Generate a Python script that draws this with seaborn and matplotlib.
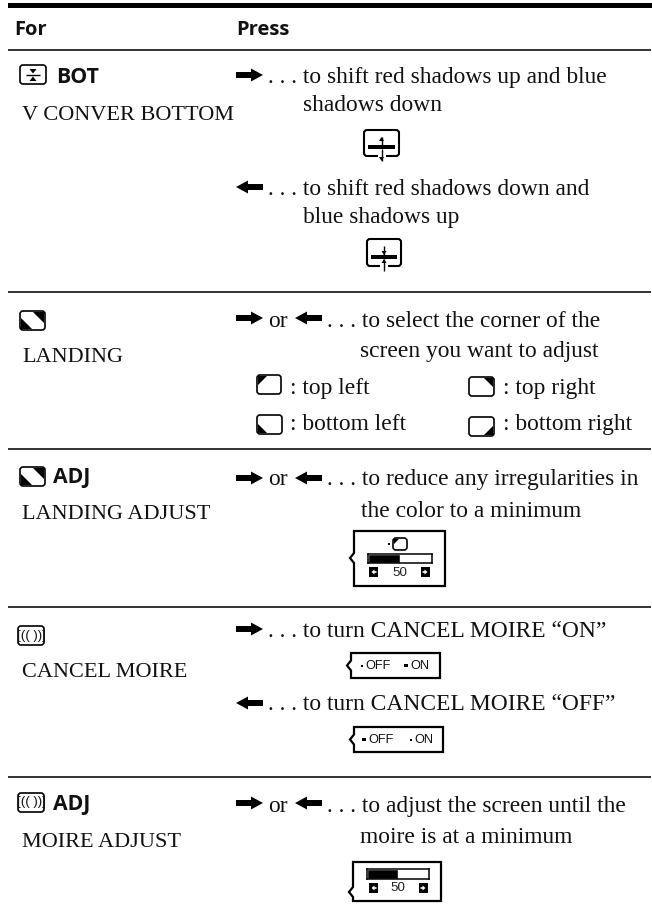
import matplotlib
matplotlib.use("Agg")
import logging
import matplotlib.pyplot as plt
from matplotlib.patches import FancyBboxPatch, Polygon, Rectangle
import seaborn as sns

logging.getLogger("matplotlib.font_manager").setLevel(logging.ERROR)

# text of the table
headers = ["For", "Press"]
bold_tags = ["BOT", "ADJ", "ADJ"]
item_names = ["V CONVER BOTTOM", "LANDING", "LANDING ADJUST", "CANCEL MOIRE", "MOIRE ADJUST"]
press_lines = [
    ". . . to shift red shadows up and blue",
    "shadows down",
    ". . . to shift red shadows down and",
    "blue shadows up",
    "or",
    ". . . to select the corner of the",
    "screen you want to adjust",
    "or",
    ". . . to reduce any irregularities in",
    "the color to a minimum",
    ". . . to turn CANCEL MOIRE \u201cON\u201d",
    ". . . to turn CANCEL MOIRE \u201cOFF\u201d",
    "or",
    ". . . to adjust the screen until the",
    "moire is at a minimum",
]
corner_labels = [": top left", ": top right", ": bottom left", ": bottom right"]
slider_values = [50, 50]
switch_labels = ["OFF", "ON"]

# layout in pixels
name_pos = [(22, 120), (22, 362), (22, 519), (22, 677), (22, 847)]
tag_pos = [(56, 83), (53, 483), (53, 810)]
press_pos = [(268, 83), (303, 111), (268, 195), (303, 223), (268, 327), (327, 327), (360, 357),
             (268, 485), (327, 485), (361, 517), (268, 637), (268, 710), (268, 812), (327, 812), (360, 843)]
corner_pos = [(290, 394), (503, 394), (290, 430), (503, 430)]
rule_y = [50, 292, 449, 607, 777]
right_arrows = [(236, 75), (236, 318), (236, 478), (236, 629), (236, 803)]
left_arrows = [(236, 187), (295, 318), (295, 478), (236, 703), (295, 803)]

SERIF = ["Liberation Serif", "DejaVu Serif"]
SANS = ["Liberation Sans", "DejaVu Sans"]
HEAD = ["Open Sans", "DejaVu Sans"]
INK = "#111111"

sns.set_theme(style="white")
fig = plt.figure(figsize=(6.52, 9.14), dpi=100)
ax = fig.add_axes([0, 0, 1, 1])
ax.set_xlim(0, 652)
ax.set_ylim(914, 0)
ax.axis("off")


def serif(x, y, s, size=16.9):
    ax.text(x, y, s, family=SERIF, fontsize=size, color=INK, va="baseline", ha="left")


def round_box(x0, y0, x1, y1, lw=1.2):
    ax.add_patch(FancyBboxPatch((x0 + 2, y0 + 2), x1 - x0 - 4, y1 - y0 - 4,
                                boxstyle="round,pad=2,rounding_size=3",
                                fc="white", ec="black", lw=lw, zorder=3))


def block_arrow(x, y, direction):
    # wide shaft, short head, 27 px long
    pts = [(0, -3), (15, -3), (15, -6.5), (27, 0), (15, 6.5), (15, 3), (0, 3)]
    if direction < 0:
        pts = [(27 - a, b) for a, b in pts]
    ax.add_patch(Polygon([(x + a, y + b) for a, b in pts], fc="black", ec="none"))


def corner_icon(x0, y0, x1, y1, corners, size=10):
    round_box(x0, y0, x1, y1)
    for c in corners:
        if c == "tl":
            pts = [(x0 + 1, y0 + 1), (x0 + size, y0 + 1), (x0 + 1, y0 + size)]
        elif c == "tr":
            pts = [(x1 - 1, y0 + 1), (x1 - size, y0 + 1), (x1 - 1, y0 + size)]
        elif c == "bl":
            pts = [(x0 + 1, y1 - 1), (x0 + size, y1 - 1), (x0 + 1, y1 - size)]
        else:
            pts = [(x1 - 1, y1 - 1), (x1 - size, y1 - 1), (x1 - 1, y1 - size)]
        ax.add_patch(Polygon(pts, fc="black", ec="none", zorder=4))


def moire_icon(x0, y0, x1, y1):
    round_box(x0, y0, x1, y1)
    ax.text((x0 + x1) / 2, (y0 + y1) / 2, "[(( ))]", family=SANS, fontsize=9.5, ha="center",
            va="center", color=INK, zorder=4)


def thin_arrow(x, y_from, y_to):
    ax.plot([x, x], [y_from, y_to], color="black", lw=1, zorder=5, solid_capstyle="butt")
    d = 1 if y_to > y_from else -1
    ax.add_patch(Polygon([(x - 2.5, y_to - 4 * d), (x + 2.5, y_to - 4 * d), (x, y_to)],
                         fc="black", ec="none", zorder=5))


def shadow_icon(x0, y0, x1, y1, bar_y, inward):
    cx = (x0 + x1) / 2
    round_box(x0, y0, x1, y1, lw=1.5)
    ax.add_patch(Rectangle((cx - 4, y1 - 2), 8, 4, fc="white", ec="none", zorder=4))
    ax.add_patch(Rectangle((x0 + 4, bar_y - 2), x1 - x0 - 8, 4, fc="black", ec="none", zorder=5))
    if inward:
        thin_arrow(cx, y0 + 7, bar_y - 2)
        thin_arrow(cx, y1 + 5, bar_y + 2)
    else:
        thin_arrow(cx, bar_y - 2, y0 + 7)
        thin_arrow(cx, bar_y + 2, y1 + 5)


def panel(x0, y0, x1, y1, notch_y):
    ax.add_patch(Polygon([(x0, y0), (x1, y0), (x1, y1), (x0, y1), (x0, notch_y + 5),
                          (x0 - 4, notch_y), (x0, notch_y - 5)],
                         closed=True, fc="white", ec="black", lw=1.6, zorder=2))


def step_button(x, y, direction):
    ax.add_patch(Rectangle((x, y), 9, 10, fc="black", ec="none", zorder=4))
    pts = [(2, 0), (-1, -2.5), (-1, -0.8), (-3, -0.8), (-3, 0.8), (-1, 0.8), (-1, 2.5)]
    ax.add_patch(Polygon([(x + 4.5 + a * direction, y + 5 + b) for a, b in pts],
                         fc="white", ec="none", zorder=5))


def slider(x0, y0, x1, y1, value):
    # level bar is a real horizontal bar on a 0-100 scale
    inset = fig.add_axes([x0 / 652, 1 - y1 / 914, (x1 - x0) / 652, (y1 - y0) / 914], zorder=6)
    sns.barplot(x=[value], y=[""], color="black", width=1, saturation=1, ax=inset)
    inset.set_xlim(0, 100)
    inset.set_ylim(0.5, -0.5)
    inset.set(xticks=[], yticks=[], xlabel="", ylabel="")
    for side in inset.spines.values():
        side.set_visible(True)
        side.set_color("black")
        side.set_linewidth(1.1)


def switch(x0, y0, x1, y1, off_x, on_x, selected):
    panel(x0, y0, x1, y1, (y0 + y1) / 2)
    ym = (y0 + y1) / 2
    for i, (lab, lx) in enumerate(zip(switch_labels, (off_x, on_x))):
        ax.text(lx, ym + 0.5, lab, family=SANS, fontsize=9.2, color=INK, ha="left", va="center", zorder=4)
        s = 3.4 if i == selected else 2
        ax.add_patch(Rectangle((lx - 2.5 - s, ym - s / 2), s, s, fc="black", ec="none", zorder=4))


# rules
ax.add_patch(Rectangle((8, 3), 644, 5, fc="black", ec="none"))
ax.hlines(rule_y, 8, 651, color="#222222", lw=1.3)

# header
ax.text(14, 35, headers[0], family=HEAD, weight="bold", fontsize=14.5, color=INK)
ax.text(236, 35, headers[1], family=HEAD, weight="bold", fontsize=14.5, color=INK)

for s, (x, y) in zip(bold_tags, tag_pos):
    ax.text(x, y, s, family=HEAD, weight="bold", fontsize=15.3, color=INK)
for s, (x, y) in zip(item_names, name_pos):
    serif(x, y, s, size=16)
for s, (x, y) in zip(press_lines, press_pos):
    serif(x, y, s)
for s, (x, y) in zip(corner_labels, corner_pos):
    serif(x, y, s)

for x, y in right_arrows:
    block_arrow(x, y, 1)
for x, y in left_arrows:
    block_arrow(x, y, -1)

# icons in the left column
round_box(20, 65, 46, 84)
ax.hlines(75, 26, 40, color="black", lw=1, zorder=4)
ax.add_patch(Polygon([(29.5, 69), (36.5, 69), (33, 73.5)], fc="black", ec="none", zorder=4))
ax.add_patch(Polygon([(29.5, 81), (36.5, 81), (33, 76.5)], fc="black", ec="none", zorder=4))
corner_icon(20, 311, 45, 330, ["bl", "tr"], size=12)
corner_icon(20, 467, 45, 486, ["bl", "tr"], size=12)
moire_icon(18, 626, 44, 645)
moire_icon(18, 793, 44, 812)

# convergence icons
shadow_icon(364, 130, 399, 156, 147, False)
shadow_icon(367, 239, 401, 266, 257, True)

# corner choice icons
corner_icon(257, 375, 281, 394, ["tl"])
corner_icon(469, 377, 494, 396, ["tr"])
corner_icon(257, 415, 282, 434, ["bl"])
corner_icon(469, 417, 494, 436, ["br"])

# landing adjust panel
panel(354, 531, 445, 586, 558)
corner_icon(393, 538, 407, 550, ["tl"], size=6)
ax.add_patch(Rectangle((388, 542.5), 2, 2, fc="black", ec="none", zorder=4))
slider(368, 554, 432, 563, slider_values[0])
step_button(369, 567, -1)
step_button(421, 567, 1)
ax.text(400, 573, str(slider_values[0]), family=SANS, fontsize=9.6, color="#222222",
        ha="center", va="center", zorder=4)

# cancel moire panels
switch(351, 653, 440, 678, 365, 410, 1)
switch(354, 727, 443, 752, 368, 414, 0)

# moire adjust panel
panel(353, 862, 441, 901, 892)
slider(367, 869, 429, 879, slider_values[1])
step_button(369, 883, -1)
step_button(419, 883, 1)
ax.text(398, 888, str(slider_values[1]), family=SANS, fontsize=9.6, color="#222222",
        ha="center", va="center", zorder=4)

fig.savefig("out.png", dpi=100)
